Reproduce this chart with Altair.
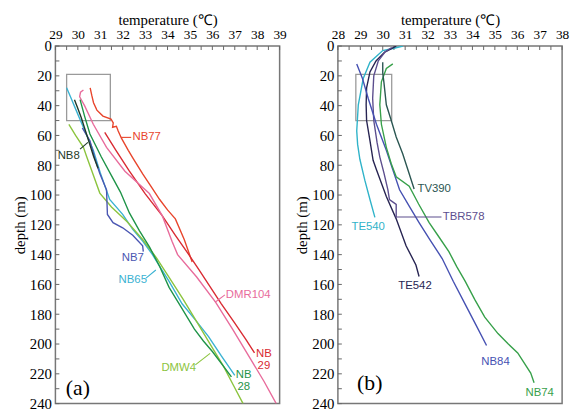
import altair as alt
import pandas as pd

# ---------------- Panel (a) profiles: temperature (deg C) vs depth (m) ----------------
A_NB77_T = [30.55, 30.62, 30.7, 30.85, 31.12, 31.48, 31.58, 31.55, 31.72, 31.8, 31.95, 32.25, 32.45, 32.9, 33.3, 33.65, 34.0, 34.35, 34.75, 35.1]
A_NB77_D = [28, 33, 38, 43, 47, 49, 51.5, 54.5, 53.8, 57, 62, 70, 75, 86, 95, 103, 110, 116, 130, 145]

A_NB29_T = [31.2, 31.7, 32.3, 33.0, 33.77, 34.35, 34.95, 35.4, 35.83, 36.4, 37.0, 37.5, 37.88]
A_NB29_D = [58, 70, 84, 99, 114, 127, 140, 150, 160, 173, 186, 197, 206]

A_DMR104_T = [30.25, 30.12, 30.08, 30.3, 30.69, 31.28, 32.1, 33.19, 33.77, 34.2, 34.45, 35.3, 36.15, 36.9, 37.7, 38.3, 38.85]
A_DMR104_D = [29.5, 31, 34, 40, 52.5, 68, 84, 99, 114, 131, 140, 155, 172, 190, 210, 225, 240]

A_NB65_T = [29.5, 29.7, 29.88, 30.25, 30.69, 31.0, 31.42, 32.0, 32.45, 32.9, 33.33, 33.7, 34.07, 34.65, 35.25, 35.83, 36.4, 37.0]
A_NB65_D = [28, 35, 41.5, 54.7, 70, 85, 103, 113, 123, 131, 140, 149, 158, 173, 184, 195, 208, 221]

A_DMW4_T = [29.6, 29.9, 30.25, 30.4, 30.98, 31.5, 32.2, 32.9, 33.5, 34.1, 34.7, 35.3, 35.9, 36.5, 36.95, 37.37]
A_DMW4_D = [52.5, 60, 68, 74.5, 98.7, 108, 118, 130, 142, 156, 170, 185, 200, 215, 228, 240]

A_NB28_T = [30.1, 30.3, 30.54, 31.05, 31.5, 31.9, 32.3, 32.75, 33.2, 33.65, 34.07, 34.6, 35.2, 35.6, 36.0, 36.45, 36.85]
A_NB28_D = [36, 47, 59, 74.5, 87, 98, 112, 124, 135, 148, 162, 175, 190, 198, 205, 214, 222]

A_NB7_T = [30.2, 30.54, 30.75, 30.98, 31.28, 31.3, 31.32, 31.57, 32.0, 32.45, 32.89, 32.92]
A_NB7_D = [55, 63.5, 75, 85.5, 96.5, 105, 113, 118.5, 122, 127, 134, 138]

A_NB8_T = [29.85, 29.98, 30.15, 30.45, 30.7, 30.9]
A_NB8_D = [36, 41, 48, 62, 74, 82]

# ---------------- Panel (b) profiles ----------------
B_TE540_T = [30.9, 30.5, 30.0, 29.43, 29.13, 28.91, 28.84, 28.88, 28.98, 29.2, 29.43, 29.65]
B_TE540_D = [0, 1.5, 3, 10.8, 21.8, 39.4, 57, 66, 76, 90, 103, 115]

B_TE542_T = [30.6, 30.35, 30.09, 29.7, 29.43, 29.28, 29.26, 29.28, 29.43, 29.57, 29.72, 30.16, 30.6, 31.04, 31.48, 31.62]
B_TE542_D = [0, 2, 4, 10, 17.4, 28, 39.4, 50, 63.5, 76.7, 83, 101, 116, 134, 147, 154.7]

B_TBR578_T = [30.4, 30.1, 29.8, 29.6, 29.55, 29.6, 29.75, 29.87, 30.05, 30.23, 30.3, 30.6, 30.6]
B_TBR578_D = [1, 4, 10, 20, 35, 50, 65, 74.5, 85, 96.5, 103, 106.3, 115]

B_NB84_T = [28.84, 29.1, 29.35, 29.72, 30.16, 30.45, 30.75, 31.2, 31.62, 32.1, 32.65, 33.15, 33.68, 34.15, 34.63]
B_NB84_D = [12, 22, 35, 52.5, 70, 83, 96.5, 108, 118.5, 130, 142.6, 158, 173.4, 187, 201]

B_NB74_T = [30.45, 30.16, 29.94, 29.87, 29.94, 30.16, 30.38, 30.6, 31.18, 31.6, 32.07, 32.5, 32.95, 33.3, 33.68, 34.1, 34.55, 35.14, 35.6, 36.02, 36.6, 36.75]
B_NB74_D = [12, 15, 24, 39.4, 52.5, 68, 79, 87.7, 94, 106, 118.5, 128, 138, 148, 158, 170, 182, 193, 200, 206, 219.5, 226]

B_TV390_T = [30.0, 30.0, 30.05, 30.16, 30.38, 30.6, 30.89, 31.1, 31.4]
B_TV390_D = [10.8, 18, 24, 39.4, 50, 61, 72.3, 82, 96]

COLORS = {
    "NB77": "#e8452c", "NB29": "#d92b33", "DMR104": "#e86c9c", "NB65": "#3ab2d2",
    "DMW4": "#8cc43e", "NB28": "#1f9448", "NB7": "#4a56b2", "NB8": "#1f3a28",
    "TE540": "#2fb3c9", "TE542": "#272452", "TBR578": "#5c4e8e", "NB84": "#4651b2",
    "NB74": "#37a04a", "TV390": "#2b5652",
}

A_SERIES = [("NB77", A_NB77_T, A_NB77_D), ("NB29", A_NB29_T, A_NB29_D), ("DMR104", A_DMR104_T, A_DMR104_D),
            ("NB65", A_NB65_T, A_NB65_D), ("DMW4", A_DMW4_T, A_DMW4_D), ("NB28", A_NB28_T, A_NB28_D),
            ("NB7", A_NB7_T, A_NB7_D), ("NB8", A_NB8_T, A_NB8_D)]
B_SERIES = [("TE540", B_TE540_T, B_TE540_D), ("TE542", B_TE542_T, B_TE542_D), ("TBR578", B_TBR578_T, B_TBR578_D),
            ("NB84", B_NB84_T, B_NB84_D), ("NB74", B_NB74_T, B_NB74_D), ("TV390", B_TV390_T, B_TV390_D)]

# labels: text, T, depth, series(color), align
A_LABELS = [("NB77", 32.44, 61.3, "NB77", "left"), ("NB8", 29.1, 73.5, "NB8", "left"),
            ("NB7", 32.45, 142.6, "NB7", "center"), ("NB65", 32.45, 157, "NB65", "center"),
            ("DMR104", 36.6, 167, "DMR104", "left"), ("NB", 38.3, 206.8, "NB29", "center"),
            ("29", 38.3, 214.6, "NB29", "center"), ("NB", 37.4, 221.0, "NB28", "center"),
            ("28", 37.4, 228.8, "NB28", "center"), ("DMW4", 34.5, 216, "DMW4", "center")]
B_LABELS = [("TV390", 31.55, 95.8, "TV390", "left"), ("TBR578", 32.68, 115, "TBR578", "left"),
            ("TE540", 29.35, 121.7, "TE540", "center"), ("TE542", 31.44, 161.3, "TE542", "center"),
            ("NB84", 35.03, 211.8, "NB84", "center"), ("NB74", 37.0, 232.7, "NB74", "center")]

# leader lines: series, T1, D1, T2, D2
A_LEADERS = [("NB77", 31.92, 61.3, 32.38, 61.3), ("NB8", 30.1, 69.2, 30.45, 64.6),
             ("NB65", 33.04, 155.8, 33.48, 150.3), ("DMR104", 36.56, 167, 36.12, 172),
             ("DMW4", 35.24, 214, 35.9, 206.3)]
B_LEADERS = [("TBR578", 30.6, 114.7, 32.62, 114.7)]

# inset boxes: T1, T2, D1, D2
A_BOX = [29.5, 31.45, 19, 50]
B_BOX = [28.8, 30.4, 19, 50]

A_XDOMAIN = [29, 39]
B_XDOMAIN = [28, 38]
Y_DOMAIN = [0, 240]
Y_TICK_LABELS = list(range(0, 241, 20))
Y_MINOR = list(range(0, 241, 10))

SERIF = "Liberation Serif"
SANS = "Liberation Sans"


def panel(series, labels, leaders, box, xdom, letter, letter_T, letter_D):
    xscale = alt.Scale(domain=xdom, nice=False, zero=False)
    yscale = alt.Scale(domain=Y_DOMAIN, reverse=True, nice=False, zero=False)
    xaxis = alt.Axis(orient="top", title="temperature (℃)", values=list(range(xdom[0], xdom[1] + 1)),
                     format="d", labelFlush=False)
    yaxis = alt.Axis(title="depth (m)", values=Y_TICK_LABELS, format="d")
    X = lambda f: alt.X(f, type="quantitative", scale=xscale, axis=xaxis)
    Y = lambda f: alt.Y(f, type="quantitative", scale=yscale, axis=yaxis)

    rows = []
    for name, T, D in series:
        for i, (t, d) in enumerate(zip(T, D)):
            rows.append({"series": name, "T": t, "D": d, "i": i, "c": COLORS[name]})
    lines = alt.Chart(pd.DataFrame(rows)).mark_line(strokeWidth=1.4, clip=True).encode(
        x=X("T"), y=Y("D"), detail="series:N", order="i:Q", color=alt.Color("c:N", scale=None))

    bdf = pd.DataFrame([{"T1": box[0], "T2": box[1], "D1": box[2], "D2": box[3]}])
    rect = alt.Chart(bdf).mark_rect(fillOpacity=0, stroke="#9a9a9a", strokeWidth=1.3).encode(
        x=X("T1"), x2="T2", y=Y("D1"), y2="D2")

    ldf = pd.DataFrame([{"s": s, "T1": a, "D1": b, "T2": c, "D2": d, "c": COLORS[s]} for s, a, b, c, d in leaders])
    lead = alt.Chart(ldf).mark_rule(strokeWidth=1.1).encode(
        x=X("T1"), x2="T2", y=Y("D1"), y2="D2", color=alt.Color("c:N", scale=None))

    tdf = pd.DataFrame([{"txt": t, "T": x, "D": y, "c": COLORS[s], "al": al} for t, x, y, s, al in labels])
    texts = []
    for al in ["left", "center"]:
        sub = tdf[tdf["al"] == al]
        if len(sub):
            texts.append(alt.Chart(sub).mark_text(font=SANS, fontSize=11.5, align=al, baseline="middle").encode(
                x=X("T"), y=Y("D"), text="txt:N", color=alt.Color("c:N", scale=None)))

    let = alt.Chart(pd.DataFrame([{"txt": letter, "T": letter_T, "D": letter_D}])).mark_text(
        font=SERIF, fontSize=22, align="center", baseline="middle", color="black").encode(
        x=X("T"), y=Y("D"), text="txt:N")

    yt = alt.Chart(pd.DataFrame({"D": Y_MINOR})).mark_rule(color="#666", strokeWidth=1).encode(
        y=Y("D"), x=alt.value(0), x2=alt.value(4))
    xt_vals = [xdom[0] + 0.5 * k for k in range((xdom[1] - xdom[0]) * 2 + 1)]
    xt = alt.Chart(pd.DataFrame({"T": xt_vals})).mark_rule(color="#666", strokeWidth=1).encode(
        x=X("T"), y=alt.value(0), y2=alt.value(4))

    return alt.layer(rect, yt, xt, lines, lead, *texts, let).properties(width=227, height=362)


pa = panel(A_SERIES, A_LABELS, A_LEADERS, A_BOX, A_XDOMAIN, "(a)", 30.0, 229.4)
pb = panel(B_SERIES, B_LABELS, B_LEADERS, B_BOX, B_XDOMAIN, "(b)", 29.42, 226)

chart = alt.hconcat(pa, pb, spacing=6).properties(
    padding={"left": 3, "top": 1, "right": 1, "bottom": 0}
).configure_view(stroke="#777777", strokeWidth=1.5).configure_axis(
    domain=False, ticks=False, grid=False, labelFont=SERIF, labelColor="black",
    titleFont=SERIF, titleFontSize=15, titleFontWeight="normal", titleColor="black",
    titlePadding=2
).configure_axisX(labelFontSize=13.5, labelPadding=5, titlePadding=0).configure_axisY(labelFontSize=15, labelPadding=4)

chart.save("out.html", embed_options={"renderer": "svg", "actions": False})
